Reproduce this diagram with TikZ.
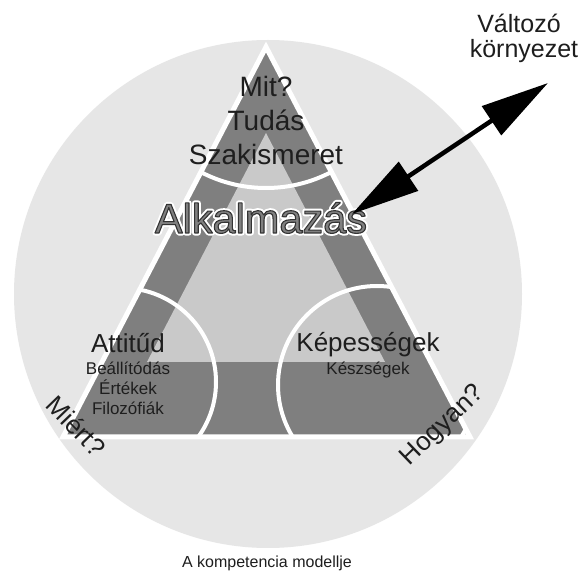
\documentclass[tikz,border=0pt]{standalone}
\usepackage{fontspec}
\setmainfont{Liberation Sans}
\usetikzlibrary{arrows.meta,calc}
\definecolor{circfill}{HTML}{E6E6E6}
\definecolor{bandfill}{HTML}{7F7F7F}
\definecolor{innerfill}{HTML}{C9C9C9}
\definecolor{ink}{HTML}{1E1E1E}
\definecolor{alkfill}{HTML}{808080}
\newcommand\alkword{Alkalmazás}
\newcommand\alkhalo{{\color{white}\special{pdf:literal direct 2 Tr 5 w 1 j 1 1 1 RG}\alkword\special{pdf:literal direct 0 Tr}}}
\newcommand\alkface{{\color{alkfill}\special{pdf:literal direct 2 Tr 1.1 w 1 j 0.2 0.2 0.2 RG}\alkword\special{pdf:literal direct 0 Tr}}}
\tikzset{
  wline/.style={draw=white, line width=4pt},
  bigtxt/.style={text=ink, inner sep=0pt, anchor=base, font=\fontsize{28}{30}\selectfont},
  midtxt/.style={text=ink, inner sep=0pt, anchor=base, font=\fontsize{26}{28}\selectfont},
  smalltxt/.style={text=ink, inner sep=0pt, anchor=base, font=\fontsize{17}{19}\selectfont},
  sidetxt/.style={text=ink, inner sep=0pt, font=\fontsize{26}{28}\selectfont},
  envtxt/.style={text=ink, inner sep=0pt, anchor=base, font=\fontsize{25}{27}\selectfont},
  captxt/.style={text=ink, inner sep=0pt, anchor=base, font=\fontsize{16}{18}\selectfont},
  alktxt/.style={inner sep=0pt, anchor=base, font=\fontsize{41.5}{44}\selectfont},
  dblarrow/.style={draw=black, line width=4.5pt,
    {Triangle[length=68pt,width=34pt]}-{Triangle[length=68pt,width=34pt]}}
}
\begin{document}
\begin{tikzpicture}[x=1pt,y=-1pt]
\useasboundingbox (0,0) rectangle (582,572);
\fill[white] (0,0) rectangle (582,572);
% big circle
\fill[circfill] (268,294) circle[radius=254];
% triangle
\coordinate (A) at (266,47);
\coordinate (BL) at (63,437);
\coordinate (BR) at (470,437);
\fill[bandfill] (A) -- (BL) -- (BR) -- cycle;
\fill[innerfill] (266,133) -- (108,437) -- (424,437) -- cycle;
\begin{scope}
  \clip (A) -- (BL) -- (BR) -- cycle;
  \fill[bandfill] (0,362) rectangle (582,437);
  \draw[wline] (122,382) circle[radius=94];
  \draw[wline] (377,385) circle[radius=99];
  \draw[wline] (A) circle[radius=141];
\end{scope}
\draw[white, line width=5pt, line join=miter] (A) -- (BL) -- (BR) -- cycle;
% top texts
\node[bigtxt] (mit) at (266,97) {Mit?};
\node[bigtxt] (tudas) at (266,131) {Tudás};
\node[bigtxt] (szak) at (266,165) {Szakismeret};
% Alkalmazas outlined with white halo
\node[alktxt] (alk) at (261,233) {\rlap{\alkhalo}\alkface};
% left sector
\node[midtxt] (att) at (128,353) {Attitűd};
\node[smalltxt] (beall) at (128,375) {Beállítódás};
\node[smalltxt] (ert) at (128,395) {Értékek};
\node[smalltxt] (filo) at (128,415) {Filozófiák};
% right sector
\node[midtxt] (kep) at (368,352) {Képességek};
\node[smalltxt] (kesz) at (368,375) {Készségek};
% rotated side texts
\node[sidetxt, rotate=-46] (miert) at (76,426) {Miért?};
\node[sidetxt, rotate=44] (hogyan) at (443,426) {Hogyan?};
% environment
\node[envtxt] (valt) at (519,33) {Változó};
\node[envtxt] (korny) at (524,58) {környezet};
\coordinate (arrlow) at (352,214);
\coordinate (arrhigh) at (548,83);
\draw[dblarrow] (arrlow) -- (arrhigh);
% caption
\node[captxt] (cap) at (267,567) {A kompetencia modellje};
\end{tikzpicture}
\end{document}
